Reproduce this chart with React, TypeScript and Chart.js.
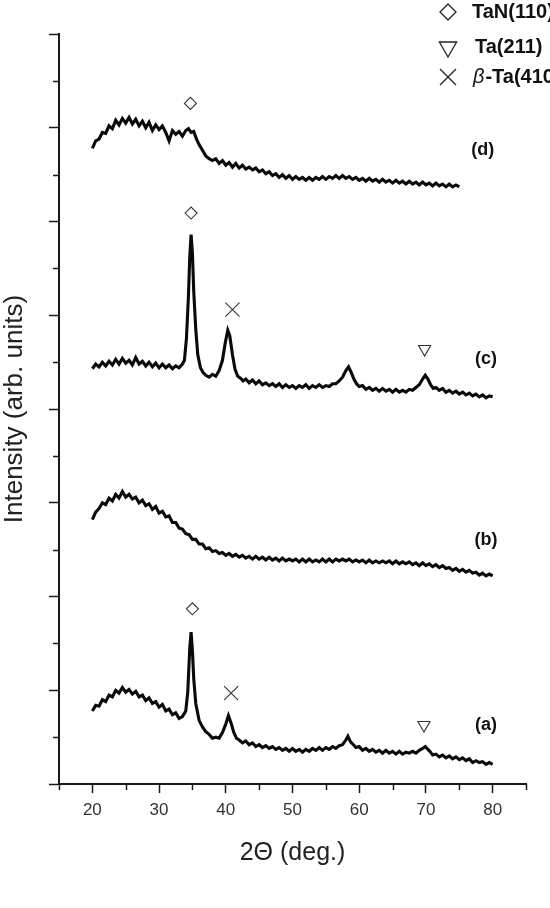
import React, { useEffect, useRef } from "react";
import { Chart, registerables } from "chart.js";

Chart.register(...registerables);

const FONT = '"Liberation Sans", Arial, Helvetica, sans-serif';
const AXIS = "#1a1a1a";

// Curve (a): [2θ, intensity]
const curveA: [number, number][] = [
  [20.0, 0.78], [20.5, 0.84], [21.0, 0.83], [21.5, 0.90], [22.0, 0.88], [22.5, 0.95], [23.0, 0.93], [23.5, 1.00],
  [24.0, 0.97], [24.5, 1.03], [25.0, 0.98], [25.5, 1.01], [26.0, 0.96], [26.5, 0.99], [27.0, 0.93], [27.5, 0.95],
  [28.0, 0.89], [28.5, 0.92], [29.0, 0.86], [29.5, 0.88], [30.0, 0.82], [30.5, 0.85], [31.0, 0.78], [31.5, 0.80],
  [32.0, 0.74], [32.5, 0.76], [33.0, 0.70], [33.5, 0.72], [34.0, 0.78], [34.3, 0.98], [34.6, 1.45], [34.8, 1.62],
  [35.0, 1.42], [35.2, 1.12], [35.5, 0.86], [36.0, 0.68], [36.5, 0.61], [37.0, 0.56], [37.5, 0.53], [38.0, 0.49],
  [38.5, 0.50], [39.0, 0.49], [39.5, 0.55], [40.0, 0.64], [40.4, 0.73], [40.8, 0.65], [41.2, 0.55], [41.6, 0.49],
  [42.0, 0.47], [42.5, 0.44], [43.0, 0.46], [43.5, 0.42], [44.0, 0.44], [44.5, 0.40], [45.0, 0.42], [45.5, 0.39],
  [46.0, 0.41], [46.5, 0.38], [47.0, 0.40], [47.5, 0.37], [48.0, 0.39], [48.5, 0.36], [49.0, 0.38], [49.5, 0.35],
  [50.0, 0.38], [50.5, 0.35], [51.0, 0.37], [51.5, 0.34], [52.0, 0.37], [52.5, 0.35], [53.0, 0.38], [53.5, 0.36],
  [54.0, 0.39], [54.5, 0.36], [55.0, 0.39], [55.5, 0.37], [56.0, 0.40], [56.5, 0.38], [57.0, 0.41], [57.5, 0.42],
  [58.0, 0.47], [58.3, 0.51], [58.7, 0.45], [59.0, 0.43], [59.5, 0.39], [60.0, 0.40], [60.5, 0.36], [61.0, 0.38],
  [61.5, 0.35], [62.0, 0.37], [62.5, 0.34], [63.0, 0.36], [63.5, 0.33], [64.0, 0.36], [64.5, 0.33], [65.0, 0.35],
  [65.5, 0.32], [66.0, 0.35], [66.5, 0.32], [67.0, 0.34], [67.5, 0.33], [68.0, 0.35], [68.5, 0.33], [69.0, 0.36],
  [69.5, 0.38], [69.9, 0.40], [70.3, 0.37], [70.7, 0.34], [71.0, 0.31], [71.5, 0.32], [72.0, 0.29], [72.5, 0.31],
  [73.0, 0.28], [73.5, 0.30], [74.0, 0.27], [74.5, 0.29], [75.0, 0.26], [75.5, 0.28], [76.0, 0.25], [76.5, 0.27],
  [77.0, 0.23], [77.5, 0.25], [78.0, 0.23], [78.5, 0.24], [79.0, 0.21], [79.5, 0.23], [80.0, 0.21],
];

// Curve (b)
const curveB: [number, number][] = [
  [20.0, 2.82], [20.5, 2.90], [21.0, 2.94], [21.5, 3.00], [22.0, 2.98], [22.5, 3.05], [23.0, 3.02], [23.5, 3.09],
  [24.0, 3.05], [24.5, 3.12], [25.0, 3.06], [25.5, 3.09], [26.0, 3.04], [26.5, 3.06], [27.0, 3.00], [27.5, 3.03],
  [28.0, 2.97], [28.5, 2.99], [29.0, 2.93], [29.5, 2.96], [30.0, 2.89], [30.5, 2.91], [31.0, 2.85], [31.5, 2.86],
  [32.0, 2.79], [32.5, 2.79], [33.0, 2.73], [33.5, 2.72], [34.0, 2.67], [34.5, 2.66], [35.0, 2.61], [35.5, 2.61],
  [36.0, 2.56], [36.5, 2.56], [37.0, 2.51], [37.5, 2.52], [38.0, 2.48], [38.5, 2.49], [39.0, 2.46], [39.5, 2.47],
  [40.0, 2.44], [40.5, 2.46], [41.0, 2.43], [41.5, 2.45], [42.0, 2.42], [42.5, 2.44], [43.0, 2.41], [43.5, 2.43],
  [44.0, 2.40], [44.5, 2.43], [45.0, 2.40], [45.5, 2.42], [46.0, 2.39], [46.5, 2.42], [47.0, 2.39], [47.5, 2.41],
  [48.0, 2.38], [48.5, 2.41], [49.0, 2.38], [49.5, 2.40], [50.0, 2.38], [50.5, 2.40], [51.0, 2.37], [51.5, 2.40],
  [52.0, 2.37], [52.5, 2.40], [53.0, 2.37], [53.5, 2.39], [54.0, 2.37], [54.5, 2.40], [55.0, 2.37], [55.5, 2.40],
  [56.0, 2.37], [56.5, 2.40], [57.0, 2.38], [57.5, 2.40], [58.0, 2.38], [58.5, 2.40], [59.0, 2.37], [59.5, 2.39],
  [60.0, 2.37], [60.5, 2.39], [61.0, 2.36], [61.5, 2.39], [62.0, 2.36], [62.5, 2.38], [63.0, 2.36], [63.5, 2.38],
  [64.0, 2.36], [64.5, 2.38], [65.0, 2.35], [65.5, 2.38], [66.0, 2.35], [66.5, 2.37], [67.0, 2.35], [67.5, 2.37],
  [68.0, 2.34], [68.5, 2.36], [69.0, 2.33], [69.5, 2.36], [70.0, 2.33], [70.5, 2.35], [71.0, 2.32], [71.5, 2.34],
  [72.0, 2.31], [72.5, 2.33], [73.0, 2.30], [73.5, 2.31], [74.0, 2.28], [74.5, 2.30], [75.0, 2.27], [75.5, 2.29],
  [76.0, 2.26], [76.5, 2.28], [77.0, 2.25], [77.5, 2.26], [78.0, 2.23], [78.5, 2.25], [79.0, 2.22], [79.5, 2.24],
  [80.0, 2.22],
];

// Curve (c)
const curveC: [number, number][] = [
  [20.0, 4.43], [20.5, 4.48], [21.0, 4.45], [21.5, 4.50], [22.0, 4.46], [22.5, 4.51], [23.0, 4.47], [23.5, 4.53],
  [24.0, 4.48], [24.5, 4.54], [25.0, 4.49], [25.5, 4.52], [26.0, 4.47], [26.5, 4.55], [27.0, 4.48], [27.5, 4.51],
  [28.0, 4.46], [28.5, 4.50], [29.0, 4.45], [29.5, 4.49], [30.0, 4.44], [30.5, 4.48], [31.0, 4.44], [31.5, 4.47],
  [32.0, 4.43], [32.5, 4.46], [33.0, 4.44], [33.5, 4.48], [33.8, 4.52], [34.1, 4.75], [34.4, 5.20], [34.6, 5.62],
  [34.8, 5.86], [35.0, 5.66], [35.2, 5.25], [35.5, 4.85], [35.8, 4.58], [36.2, 4.44], [36.6, 4.39], [37.0, 4.36],
  [37.5, 4.34], [38.0, 4.37], [38.5, 4.35], [39.0, 4.41], [39.5, 4.52], [39.9, 4.70], [40.3, 4.84], [40.6, 4.78],
  [41.0, 4.58], [41.4, 4.42], [41.8, 4.35], [42.2, 4.33], [42.6, 4.30], [43.0, 4.32], [43.5, 4.28], [44.0, 4.31],
  [44.5, 4.27], [45.0, 4.30], [45.5, 4.26], [46.0, 4.28], [46.5, 4.25], [47.0, 4.27], [47.5, 4.24], [48.0, 4.27],
  [48.5, 4.23], [49.0, 4.26], [49.5, 4.23], [50.0, 4.25], [50.5, 4.22], [51.0, 4.25], [51.5, 4.23], [52.0, 4.26],
  [52.5, 4.22], [53.0, 4.25], [53.5, 4.23], [54.0, 4.26], [54.5, 4.23], [55.0, 4.25], [55.5, 4.24], [56.0, 4.27],
  [56.5, 4.27], [57.0, 4.30], [57.5, 4.34], [58.0, 4.41], [58.4, 4.45], [58.8, 4.39], [59.2, 4.32], [59.6, 4.27],
  [60.0, 4.24], [60.5, 4.25], [61.0, 4.21], [61.5, 4.23], [62.0, 4.20], [62.5, 4.22], [63.0, 4.19], [63.5, 4.22],
  [64.0, 4.19], [64.5, 4.21], [65.0, 4.18], [65.5, 4.21], [66.0, 4.18], [66.5, 4.20], [67.0, 4.18], [67.5, 4.21],
  [68.0, 4.20], [68.5, 4.23], [69.0, 4.26], [69.5, 4.32], [69.9, 4.36], [70.3, 4.32], [70.7, 4.26], [71.1, 4.22],
  [71.5, 4.23], [72.0, 4.20], [72.5, 4.22], [73.0, 4.18], [73.5, 4.20], [74.0, 4.17], [74.5, 4.19], [75.0, 4.16],
  [75.5, 4.18], [76.0, 4.15], [76.5, 4.17], [77.0, 4.14], [77.5, 4.16], [78.0, 4.13], [78.5, 4.15], [79.0, 4.12],
  [79.5, 4.14], [80.0, 4.13],
];

// Curve (d)
const curveD: [number, number][] = [
  [20.0, 6.78], [20.5, 6.86], [21.0, 6.88], [21.5, 6.95], [22.0, 6.94], [22.5, 7.02], [23.0, 6.99], [23.5, 7.08],
  [24.0, 7.03], [24.5, 7.10], [25.0, 7.05], [25.5, 7.11], [26.0, 7.04], [26.5, 7.09], [27.0, 7.02], [27.5, 7.07],
  [28.0, 7.00], [28.5, 7.06], [29.0, 6.97], [29.5, 7.03], [30.0, 6.98], [30.5, 7.02], [31.0, 6.95], [31.5, 6.86],
  [32.0, 6.97], [32.5, 6.93], [33.0, 6.96], [33.5, 6.91], [34.0, 6.97], [34.4, 6.99], [34.8, 6.95], [35.2, 6.96],
  [35.6, 6.88], [36.0, 6.82], [36.5, 6.76], [37.0, 6.70], [37.5, 6.67], [38.0, 6.65], [38.5, 6.67], [39.0, 6.62],
  [39.5, 6.65], [40.0, 6.60], [40.5, 6.63], [41.0, 6.58], [41.5, 6.62], [42.0, 6.57], [42.5, 6.60], [43.0, 6.56],
  [43.5, 6.58], [44.0, 6.55], [44.5, 6.57], [45.0, 6.53], [45.5, 6.55], [46.0, 6.51], [46.5, 6.53], [47.0, 6.49],
  [47.5, 6.51], [48.0, 6.47], [48.5, 6.50], [49.0, 6.46], [49.5, 6.49], [50.0, 6.45], [50.5, 6.48], [51.0, 6.45],
  [51.5, 6.47], [52.0, 6.44], [52.5, 6.47], [53.0, 6.44], [53.5, 6.47], [54.0, 6.45], [54.5, 6.48], [55.0, 6.45],
  [55.5, 6.48], [56.0, 6.46], [56.5, 6.49], [57.0, 6.46], [57.5, 6.49], [58.0, 6.46], [58.5, 6.48], [59.0, 6.45],
  [59.5, 6.47], [60.0, 6.44], [60.5, 6.46], [61.0, 6.43], [61.5, 6.46], [62.0, 6.43], [62.5, 6.45], [63.0, 6.42],
  [63.5, 6.45], [64.0, 6.42], [64.5, 6.44], [65.0, 6.41], [65.5, 6.44], [66.0, 6.41], [66.5, 6.43], [67.0, 6.40],
  [67.5, 6.43], [68.0, 6.40], [68.5, 6.42], [69.0, 6.39], [69.5, 6.42], [70.0, 6.39], [70.5, 6.41], [71.0, 6.38],
  [71.5, 6.41], [72.0, 6.38], [72.5, 6.40], [73.0, 6.37], [73.5, 6.40], [74.0, 6.37], [74.5, 6.39], [75.0, 6.37],
];

// Peak markers
const diamondPeaks: [number, number][] = [[35.0, 1.87], [34.8, 6.09], [34.7, 7.26]];
const crossPeaks: [number, number][] = [[40.8, 0.97], [41.0, 5.06]];
const trianglePeaks: [number, number][] = [[69.7, 0.63], [69.8, 4.64]];

// Curve labels
const curveLabels = ["(a)", "(b)", "(c)", "(d)"];
const curveLabelPos: [number, number][] = [[79.0, 0.63], [79.0, 2.60], [79.0, 4.53], [78.5, 6.76]];

// Legend
const legendTexts = ["TaN(110)", "Ta(211)", "-Ta(410)"];

// Axis ticks
const xTickLabels = [20, 30, 40, 50, 60, 70, 80];
const xMinorTicks = [15, 25, 35, 45, 55, 65, 75, 85];
const yMinorTicks = [0.5, 1.5, 2.5, 3.5, 4.5, 5.5, 6.5, 7.5];

const toXY = (arr: [number, number][]) => arr.map(([x, y]) => ({ x, y }));

const overlayPlugin = {
  id: "overlay",
  afterDraw(chart: any) {
    const { ctx, chartArea } = chart;
    const xs = chart.scales.x;
    const ys = chart.scales.y;
    ctx.save();
    // minor ticks
    ctx.strokeStyle = AXIS;
    ctx.lineWidth = 1.5;
    for (const v of xMinorTicks) {
      const px = Math.round(xs.getPixelForValue(v)) + 0.5;
      ctx.beginPath();
      ctx.moveTo(px, chartArea.bottom);
      ctx.lineTo(px, chartArea.bottom + 6);
      ctx.stroke();
    }
    for (const v of yMinorTicks) {
      const py = Math.round(ys.getPixelForValue(v)) + 0.5;
      ctx.beginPath();
      ctx.moveTo(chartArea.left, py);
      ctx.lineTo(chartArea.left - 6, py);
      ctx.stroke();
    }
    // curve labels
    ctx.fillStyle = "#111";
    ctx.font = `bold 18px ${FONT}`;
    ctx.textAlign = "center";
    ctx.textBaseline = "middle";
    curveLabels.forEach((t, i) => {
      const [vx, vy] = curveLabelPos[i];
      ctx.fillText(t, xs.getPixelForValue(vx), ys.getPixelForValue(vy));
    });

    // legend (top right)
    const sx = chartArea.right - 78;
    const rows = [12, 47, 77];
    ctx.strokeStyle = "#222";
    ctx.lineWidth = 1.3;
    // diamond
    let cy = rows[0];
    let r = 8;
    ctx.beginPath();
    ctx.moveTo(sx, cy - r);
    ctx.lineTo(sx + r, cy);
    ctx.lineTo(sx, cy + r);
    ctx.lineTo(sx - r, cy);
    ctx.closePath();
    ctx.stroke();
    // inverted triangle
    cy = rows[1];
    r = 10;
    ctx.beginPath();
    ctx.moveTo(sx - r * 0.866, cy - r * 0.5);
    ctx.lineTo(sx + r * 0.866, cy - r * 0.5);
    ctx.lineTo(sx, cy + r);
    ctx.closePath();
    ctx.stroke();
    // cross
    cy = rows[2];
    const a = 8;
    ctx.beginPath();
    ctx.moveTo(sx - a, cy - a);
    ctx.lineTo(sx + a, cy + a);
    ctx.moveTo(sx + a, cy - a);
    ctx.lineTo(sx - a, cy + a);
    ctx.stroke();

    ctx.textAlign = "left";
    ctx.textBaseline = "middle";
    ctx.fillStyle = "#111";
    ctx.font = `bold 20px ${FONT}`;
    ctx.fillText(legendTexts[0], sx + 24, rows[0]);
    ctx.fillText(legendTexts[1], sx + 27, rows[1]);
    ctx.font = `italic 20px ${FONT}`;
    ctx.fillText("β", sx + 25, rows[2]);
    const bw = ctx.measureText("β").width;
    ctx.font = `bold 20px ${FONT}`;
    ctx.fillText(legendTexts[2], sx + 26 + bw, rows[2]);
    ctx.restore();
  },
};

export default function App() {
  const canvasRef = useRef<HTMLCanvasElement | null>(null);

  useEffect(() => {
    if (!canvasRef.current) return;
    const lineDs = (data: [number, number][], label: string) => ({
      label,
      data: toXY(data),
      borderColor: "#0a0a0a",
      borderWidth: 3.1,
      pointRadius: 0,
      tension: 0,
      fill: false,
    });
    const chart = new Chart(canvasRef.current, {
      type: "line",
      data: {
        datasets: [
          lineDs(curveA, "(a)"),
          lineDs(curveB, "(b)"),
          lineDs(curveC, "(c)"),
          lineDs(curveD, "(d)"),
          {
            label: "TaN(110)",
            data: toXY(diamondPeaks),
            showLine: false,
            pointStyle: "rectRot",
            pointRadius: 6,
            pointBorderWidth: 1.1,
            pointBorderColor: "#333",
            pointBackgroundColor: "rgba(255,255,255,0)",
          },
          {
            label: "β-Ta(410)",
            data: toXY(crossPeaks),
            showLine: false,
            pointStyle: "crossRot",
            pointRadius: 10,
            pointBorderWidth: 1.1,
            pointBorderColor: "#333",
            pointBackgroundColor: "rgba(255,255,255,0)",
          },
          {
            label: "Ta(211)",
            data: toXY(trianglePeaks),
            showLine: false,
            pointStyle: "triangle",
            pointRotation: 180,
            pointRadius: 7,
            pointBorderWidth: 1.1,
            pointBorderColor: "#333",
            pointBackgroundColor: "rgba(255,255,255,0)",
          },
        ] as any,
      },
      options: {
        responsive: false,
        animation: false,
        layout: { padding: { top: 34, right: 24, bottom: 40, left: 0 } },
        plugins: {
          legend: { display: false },
          tooltip: { enabled: false },
        },
        scales: {
          x: {
            type: "linear",
            min: 15,
            max: 85,
            border: { display: true, color: AXIS, width: 2 },
            grid: {
              drawOnChartArea: false,
              drawTicks: true,
              tickLength: 9,
              tickWidth: 1.5,
              tickColor: (c: any) =>
                c.tick && xTickLabels.includes(c.tick.value) ? AXIS : "rgba(0,0,0,0)",
            },
            ticks: {
              stepSize: 5,
              maxTicksLimit: 100,
              autoSkip: false,
              maxRotation: 0,
              padding: 7,
              color: "#333",
              font: { size: 17, family: FONT },
              callback: (v: any) => (xTickLabels.includes(Number(v)) ? String(v) : ""),
            },
            title: {
              display: true,
              text: "2Θ (deg.)",
              color: "#222",
              font: { size: 25, family: FONT },
              padding: { top: 10.5, bottom: 0 },
            },
          },
          y: {
            type: "linear",
            min: 0,
            max: 8,
            border: { display: true, color: AXIS, width: 2 },
            grid: {
              drawOnChartArea: false,
              drawTicks: true,
              tickLength: 10,
              tickWidth: 1.5,
              tickColor: (c: any) =>
                c.tick && Number.isInteger(c.tick.value) ? AXIS : "rgba(0,0,0,0)",
            },
            ticks: { display: false, stepSize: 0.5, maxTicksLimit: 100 },
            title: {
              display: true,
              text: "Intensity (arb. units)",
              color: "#222",
              font: { size: 26, family: FONT, lineHeight: 1 },
              padding: { top: 2, bottom: 21 },
            },
          },
        },
      } as any,
      plugins: [overlayPlugin],
    });
    return () => chart.destroy();
  }, []);

  return (
    <div style={{ position: "absolute", left: 0, top: 0, width: 550, height: 908, background: "#fff" }}>
      <canvas ref={canvasRef} width={550} height={908} style={{ display: "block" }} />
    </div>
  );
}
